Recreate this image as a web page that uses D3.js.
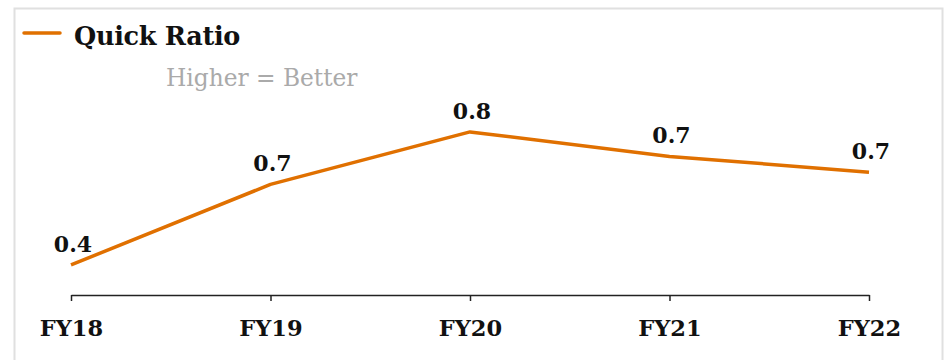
<!DOCTYPE html>
<html>
<head>
<meta charset="utf-8">
<script src="https://cdn.jsdelivr.net/npm/d3@7"></script>
<style>
  html, body { margin: 0; padding: 0; background: #fff; }
  svg { display: block; }
</style>
</head>
<body>
<svg id="chart" width="951" height="360"></svg>
<script>
// Quick ratio by fiscal year
const categories = ["FY18", "FY19", "FY20", "FY21", "FY22"];
const quickRatio = [0.43, 0.66, 0.81, 0.74, 0.695];
const seriesName = "Quick Ratio";
const subtitle = "Higher = Better";

const width = 951, height = 360;
const lineColor = "#E07000";
const serif = "'DejaVu Serif', 'Liberation Serif', serif";

const svg = d3.select("#chart");

// outer frame
svg.append("rect")
  .attr("x", 14.5).attr("y", 8.5)
  .attr("width", 928).attr("height", 360)
  .attr("fill", "none")
  .attr("stroke", "#e0e0e0")
  .attr("stroke-width", 2);

const x = d3.scalePoint().domain(categories).range([71, 869]);
const y = d3.scaleLinear().domain([0.344, 0.954]).range([295, 81.5]);

// x axis
const axis = svg.append("g")
  .attr("transform", "translate(0,295)")
  .call(d3.axisBottom(x).tickSizeInner(6).tickSizeOuter(0).tickPadding(19));
axis.select(".domain").attr("stroke", "#222").attr("stroke-width", 1.5);
axis.selectAll(".tick line").attr("stroke", "#222").attr("stroke-width", 1.5);
axis.selectAll(".tick text")
  .attr("font-family", serif)
  .attr("font-weight", "bold")
  .attr("font-size", 22.5)
  .attr("fill", "#111");

// series line
const data = categories.map((c, i) => ({ cat: c, value: quickRatio[i] }));
const line = d3.line().x(d => x(d.cat)).y(d => y(d.value));
svg.append("path")
  .datum(data)
  .attr("d", line)
  .attr("fill", "none")
  .attr("stroke", lineColor)
  .attr("stroke-width", 3.5)
  .attr("stroke-linejoin", "round");

// value labels
const fmt = d3.format(".1f");
svg.append("g").selectAll("text")
  .data(data)
  .join("text")
  .attr("x", d => x(d.cat) + 2)
  .attr("y", d => y(d.value) - 13)
  .attr("text-anchor", "middle")
  .attr("font-family", serif)
  .attr("font-weight", "bold")
  .attr("font-size", 22)
  .attr("fill", "#111")
  .text(d => fmt(d.value));

// legend
svg.append("line")
  .attr("x1", 24).attr("x2", 60)
  .attr("y1", 33).attr("y2", 33)
  .attr("stroke", lineColor)
  .attr("stroke-width", 3.5)
  .attr("stroke-linecap", "round");
svg.append("text")
  .attr("x", 74).attr("y", 45)
  .attr("font-family", serif)
  .attr("font-weight", "bold")
  .attr("font-size", 25.5)
  .attr("letter-spacing", -0.3)
  .attr("fill", "#111")
  .text(seriesName);

svg.append("text")
  .attr("x", 166).attr("y", 86)
  .attr("font-family", serif)
  .attr("font-size", 23.3)
  .attr("fill", "#aaaaaa")
  .text(subtitle);
</script>
</body>
</html>
